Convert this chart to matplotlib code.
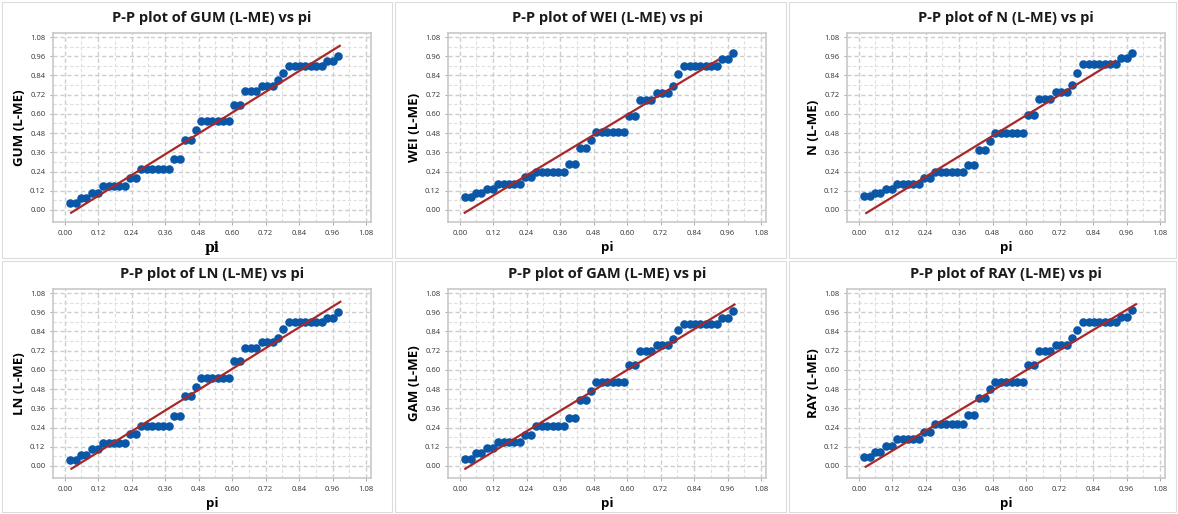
import numpy as np
import matplotlib
matplotlib.use("Agg")
import matplotlib.pyplot as plt
from matplotlib.patches import Rectangle

# plotting positions (pi), 50 points
pi = [0.020, 0.039, 0.059, 0.078, 0.098, 0.118, 0.137, 0.157, 0.176, 0.196,
      0.216, 0.235, 0.255, 0.275, 0.294, 0.314, 0.333, 0.353, 0.373, 0.392,
      0.412, 0.431, 0.451, 0.471, 0.490, 0.510, 0.529, 0.549, 0.569, 0.588,
      0.608, 0.627, 0.647, 0.667, 0.686, 0.706, 0.725, 0.745, 0.765, 0.784,
      0.804, 0.824, 0.843, 0.863, 0.882, 0.902, 0.922, 0.941, 0.961, 0.980]

gum = [0.044, 0.044, 0.077, 0.077, 0.108, 0.108, 0.150, 0.150, 0.150, 0.150,
       0.150, 0.200, 0.200, 0.258, 0.258, 0.258, 0.258, 0.258, 0.258, 0.316,
       0.316, 0.437, 0.437, 0.499, 0.557, 0.557, 0.557, 0.557, 0.557, 0.557,
       0.655, 0.655, 0.743, 0.743, 0.743, 0.776, 0.776, 0.776, 0.811, 0.857,
       0.901, 0.901, 0.901, 0.901, 0.901, 0.901, 0.901, 0.930, 0.930, 0.963]

wei = [0.080, 0.080, 0.104, 0.104, 0.133, 0.133, 0.164, 0.164, 0.164, 0.164,
       0.164, 0.206, 0.206, 0.239, 0.239, 0.239, 0.239, 0.239, 0.239, 0.287,
       0.287, 0.385, 0.385, 0.437, 0.489, 0.489, 0.489, 0.489, 0.489, 0.489,
       0.588, 0.588, 0.688, 0.688, 0.688, 0.732, 0.732, 0.732, 0.776, 0.846,
       0.900, 0.900, 0.900, 0.900, 0.900, 0.900, 0.900, 0.942, 0.942, 0.981]

nor = [0.086, 0.086, 0.105, 0.105, 0.134, 0.134, 0.161, 0.161, 0.161, 0.161,
       0.161, 0.197, 0.197, 0.236, 0.236, 0.236, 0.236, 0.236, 0.236, 0.278,
       0.278, 0.372, 0.372, 0.429, 0.483, 0.483, 0.483, 0.483, 0.483, 0.483,
       0.592, 0.592, 0.692, 0.692, 0.692, 0.736, 0.736, 0.736, 0.782, 0.854,
       0.910, 0.910, 0.910, 0.910, 0.910, 0.910, 0.910, 0.950, 0.950, 0.983]

ln = [0.036, 0.036, 0.067, 0.067, 0.103, 0.103, 0.144, 0.144, 0.144, 0.144,
      0.144, 0.197, 0.197, 0.251, 0.251, 0.251, 0.251, 0.251, 0.251, 0.314,
      0.314, 0.435, 0.435, 0.496, 0.552, 0.552, 0.552, 0.552, 0.552, 0.552,
      0.653, 0.653, 0.736, 0.736, 0.736, 0.774, 0.774, 0.774, 0.801, 0.858,
      0.900, 0.900, 0.900, 0.900, 0.900, 0.900, 0.900, 0.927, 0.927, 0.962]

gam = [0.046, 0.046, 0.079, 0.079, 0.111, 0.111, 0.149, 0.149, 0.149, 0.149,
       0.149, 0.192, 0.192, 0.249, 0.249, 0.249, 0.249, 0.249, 0.249, 0.297,
       0.297, 0.414, 0.414, 0.469, 0.523, 0.523, 0.523, 0.523, 0.523, 0.523,
       0.628, 0.628, 0.715, 0.715, 0.715, 0.757, 0.757, 0.757, 0.791, 0.851,
       0.889, 0.889, 0.889, 0.889, 0.889, 0.889, 0.889, 0.923, 0.923, 0.967]

ray = [0.054, 0.054, 0.087, 0.087, 0.125, 0.125, 0.166, 0.166, 0.166, 0.166,
       0.166, 0.214, 0.214, 0.260, 0.260, 0.260, 0.260, 0.260, 0.260, 0.316,
       0.316, 0.424, 0.424, 0.478, 0.526, 0.526, 0.526, 0.526, 0.526, 0.526,
       0.628, 0.628, 0.717, 0.717, 0.717, 0.757, 0.757, 0.757, 0.796, 0.852,
       0.896, 0.896, 0.896, 0.896, 0.896, 0.896, 0.896, 0.931, 0.931, 0.973]

names = ["GUM", "WEI", "N", "LN", "GAM", "RAY"]
series = [gum, wei, nor, ln, gam, ray]

# fitted line end points per panel
line_x0 = [0.023, 0.018, 0.027, 0.024, 0.020, 0.025]
line_x1 = [0.986, 0.925, 0.920, 0.988, 0.985, 0.994]
line_y0 = [-0.017, -0.017, -0.019, -0.017, -0.017, -0.005]
line_y1 = [1.025, 0.936, 0.931, 1.025, 1.008, 1.010]

ticks = [0.00, 0.12, 0.24, 0.36, 0.48, 0.60, 0.72, 0.84, 0.96, 1.08]
tick_labels = ["0.00", "0.12", "0.24", "0.36", "0.48", "0.60", "0.72", "0.84", "0.96", "1.08"]

W, H = 1178, 514
fig = plt.figure(figsize=(W / 100, H / 100), dpi=100)
plt.rcParams['font.family'] = ['Open Sans', 'DejaVu Sans']

# panel frames (pixels: x0, y0, x1, y1)
frames = [(2, 2, 392, 258), (395, 2, 786, 258), (789, 2, 1176, 258),
          (2, 261, 392, 512), (395, 261, 786, 512), (789, 261, 1176, 512)]
# axes boxes in pixels (left, top, right, bottom)
boxes = [(53, 33, 371, 222), (448, 33, 766, 222), (847, 33, 1165, 222),
         (53, 289, 371, 478), (448, 289, 766, 478), (847, 289, 1165, 478)]

for k in range(6):
    fx0, fy0, fx1, fy1 = frames[k]
    fig.patches.append(Rectangle((fx0 / W, 1 - fy1 / H), (fx1 - fx0) / W, (fy1 - fy0) / H,
                                 transform=fig.transFigure, fill=False,
                                 edgecolor='#dcdcdc', lw=0.8))
    l, t, r, b = boxes[k]
    ax = fig.add_axes([l / W, 1 - b / H, (r - l) / W, (b - t) / H])
    ax.set_xlim(-0.042, 1.098)
    ax.set_ylim(-0.075, 1.105)
    ax.set_xticks(ticks)
    ax.set_xticklabels(tick_labels)
    ax.set_yticks(ticks)
    ax.set_yticklabels(tick_labels)
    ax.set_xticks(np.arange(0.06, 1.1, 0.12), minor=True)
    ax.set_yticks(np.arange(0.06, 1.1, 0.12), minor=True)
    ax.tick_params(which='major', labelsize=5.5, length=2.5, width=0.6,
                   color='#9a9a9a', labelcolor='#333333', pad=3)
    ax.tick_params(which='minor', length=0)
    ax.grid(which='major', color='#cdcdcd', lw=1.0, ls=(0, (3, 2)))
    ax.grid(which='minor', color='#dedede', lw=0.8, ls=(0, (3, 2)))
    ax.set_axisbelow(True)
    for s in ax.spines.values():
        s.set_color('#c8c8c8')
        s.set_linewidth(1.2)

    ax.scatter(pi, series[k], s=38, color='#0a57a8', zorder=3, linewidths=0)
    ax.plot([line_x0[k], line_x1[k]], [line_y0[k], line_y1[k]],
            color='#a8282a', lw=1.6, zorder=4)

    ax.set_title("P-P plot of %s (L-ME) vs pi" % names[k], fontsize=10.5,
                 fontweight='bold', pad=8, color='#1a1a1a')
    if k == 0:
        ax.set_xlabel("pi", fontsize=10, fontweight='bold', family='serif', labelpad=3)
    else:
        ax.set_xlabel("pi", fontsize=9.5, fontweight='bold', labelpad=3)
    ax.set_ylabel("%s (L-ME)" % names[k], fontsize=9.5, fontweight='bold', labelpad=3)

fig.savefig("out.png", dpi=100)
